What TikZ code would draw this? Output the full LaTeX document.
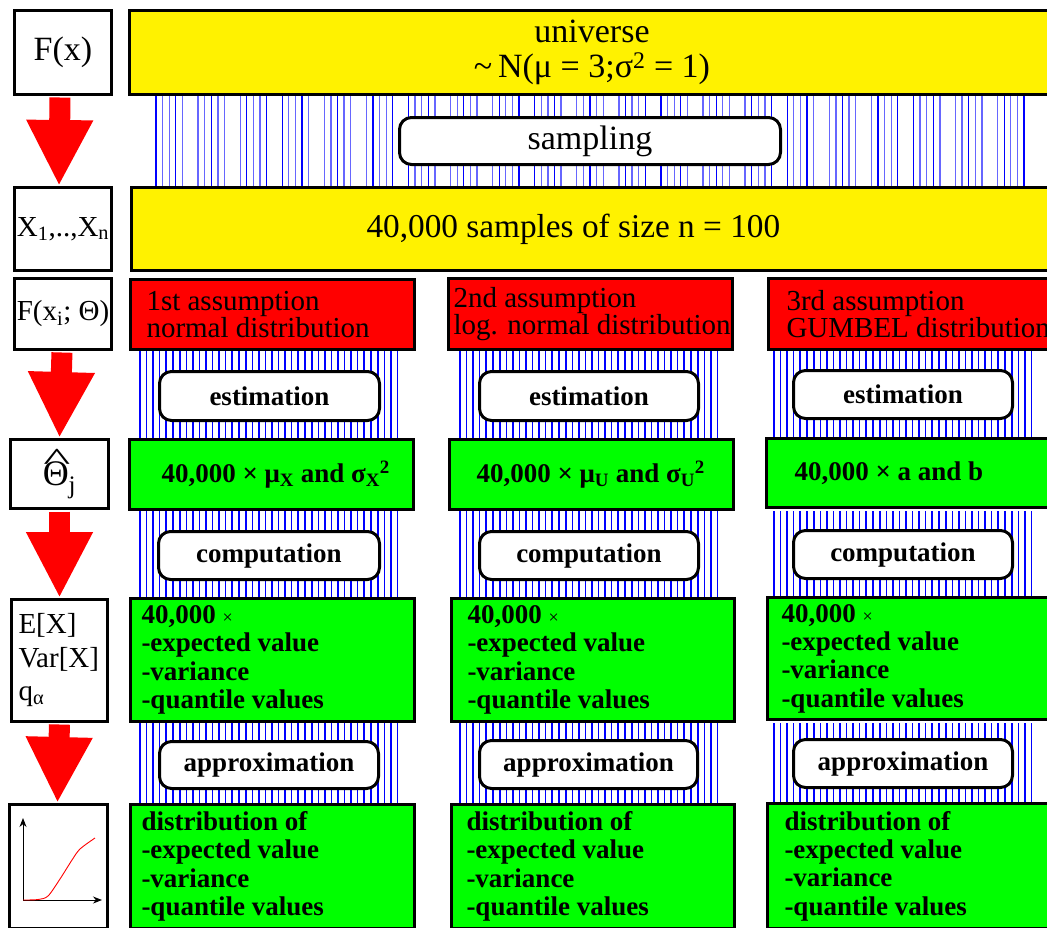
\documentclass[tikz,border=0pt]{standalone}
\usepackage{fontspec}
\setmainfont{Liberation Serif}
\usetikzlibrary{arrows.meta}
\newcommand\cbox[7]{\node[#1, minimum width={#5-#3-3}, minimum height={#6-#4-3}, align=center] (#2) at ({(#3+#5)/2},{(#4+#6)/2}) {#7};}
\newcommand\lbox[8]{\node[#1, minimum width={#5-#3-3}, minimum height={#6-#4-3}] (#2) at ({(#3+#5)/2},{(#4+#6)/2}) {};
  \node[#1, draw=none, fill=none, anchor=west, align=left] (#2t) at ({#3+1.5+#7},{(#4+#6)/2}) {#8};}
\newcommand\hatchcol[3]{\foreach \i in {0,...,39}{\pgfmathsetmacro\lw{mod(\i,2)==0 ? 1.9 : 1.2}\draw[blue, line width=\lw pt] ({#1+\i*6.6},#2) -- ({#1+\i*6.6},#3);}}
\begin{document}
\begin{tikzpicture}[x=1pt,y=-1pt,
  wbox/.style={draw, line width=3pt, fill=white, inner sep=0pt},
  ybox/.style={draw, line width=3pt, fill=yellow, inner sep=0pt},
  rbox/.style={draw, line width=3pt, fill=red, inner sep=0pt},
  gbox/.style={draw, line width=3pt, fill=green, inner sep=0pt},
  obox/.style={draw, line width=3pt, fill=white, rounded corners=12pt, inner sep=0pt},
  bigf/.style={font=\fontsize{34}{35}\selectfont},
  samf/.style={font=\fontsize{33.3}{35}\selectfont},
  midf/.style={font=\fontsize{29}{26}\selectfont},
  lblf/.style={font=\fontsize{29}{33.5}\selectfont},
  boldf/.style={font=\fontsize{27}{28.3}\selectfont\bfseries},
  flow/.style={red, line width=21pt, shorten <=1.5pt, -{Triangle[width=62pt,length=66pt]}},
]
\useasboundingbox (0,0) rectangle (1047,927);
\clip (0,0) rectangle (1047,927);
\fill[white] (0,0) rectangle (1047,927);

% sampling lines
\foreach \g in {0,...,20}{\foreach \k in {0,...,4}{\pgfmathsetmacro\op{mod(\g+\k,3)==0 ? 1 : 0.6}\draw[blue, line width=1.3pt, opacity=\op] ({156+\g*42.08+\k*6.6},96) -- ++(0,90);}}

% hatching in the three columns
\hatchcol{140}{351}{438}\hatchcol{140}{511}{597}\hatchcol{140}{723}{803}
\hatchcol{460}{351}{438}\hatchcol{460}{511}{597}\hatchcol{460}{723}{803}
\hatchcol{774}{351}{438}\hatchcol{774}{511}{597}\hatchcol{774}{723}{803}

% left column
\cbox{wbox,bigf}{Fx}{13}{9}{113}{96}{F(x)}
\cbox{wbox,midf}{Xn}{13}{186}{113}{272}{X\textsubscript{1},..,X\textsubscript{n}}
\cbox{wbox,midf}{Fxi}{13}{277}{113}{351}{F(x\textsubscript{i}; Θ)}
\cbox{wbox,font=\fontsize{36}{36}\selectfont}{Th}{9}{438}{110}{510}{\rlap{\hspace{0.02em}\raisebox{0.40em}{\scalebox{1.6}[0.9]{\textasciicircum}}}Θ\textsubscript{j}}
\lbox{wbox,lblf}{EX}{10}{598}{109}{723}{5.5}{E[X]\\Var[X]\\q\textsubscript{α}}
\cbox{wbox}{Gr}{8}{803}{109}{930}{}

% graph icon
\draw[line width=1pt, -{Stealth[length=9pt,width=7pt]}] (23,900) -- (23,818);
\draw[line width=1pt, -{Stealth[length=9pt,width=7pt]}] (23,900) -- (102,900);
\draw[red, line width=0.9pt] plot[smooth] coordinates {(23,900) (38,899.5) (48,896) (60,879) (72,860) (80,849) (95,838)};

% universe and samples
\cbox{ybox,bigf}{univ}{128}{9}{1056}{96}{universe\\\textasciitilde\,N(μ = 3;σ\textsuperscript{2} = 1)}
\cbox{obox,bigf}{samp}{398}{116}{782}{166}{sampling}
\lbox{ybox,samf}{samples}{130}{186}{1100}{272}{233.5}{40,000 samples of size n = 100}

% assumptions
\lbox{rbox,midf}{as1}{129}{278}{416}{351}{14.5}{1st assumption\\normal distribution}
\lbox{rbox,midf}{as2}{447}{277}{734}{351}{3.5}{2nd assumption\\log. normal distribution}
\lbox{rbox,midf}{as3}{767}{277}{1100}{351}{16.5}{3rd assumption\\GUMBEL distribution}

% estimation
\cbox{obox,boldf}{est1}{158}{370}{381}{422}{estimation}
\cbox{obox,boldf}{est2}{478}{370}{700}{422}{estimation}
\cbox{obox,boldf}{est3}{792}{369}{1014}{420}{estimation}

% parameters
\lbox{gbox,boldf}{par1}{128}{438}{415}{511}{30.5}{40,000 × μ\textsubscript{X} and σ\textsubscript{X}\textsuperscript{2}}
\lbox{gbox,boldf}{par2}{448}{438}{735}{511}{25.5}{40,000 × μ\textsubscript{U} and σ\textsubscript{U}\textsuperscript{2}}
\lbox{gbox,boldf}{par3}{765}{437}{1100}{509}{26.5}{40,000 × a and b}

% computation
\cbox{obox,boldf}{com1}{157}{530}{381}{581}{computation}
\cbox{obox,boldf}{com2}{478}{530}{700}{581}{computation}
\cbox{obox,boldf}{com3}{792}{529}{1014}{580}{computation}

% values
\lbox{gbox,boldf}{val1}{129}{597}{416}{723}{9.5}{40,000 {\fontsize{18}{18}\selectfont\mdseries ×}\\-expected value\\-variance\\-quantile values}
\lbox{gbox,boldf}{val2}{450}{597}{736}{723}{14.5}{40,000 {\fontsize{18}{18}\selectfont\mdseries ×}\\-expected value\\-variance\\-quantile values}
\lbox{gbox,boldf}{val3}{766}{596}{1100}{721}{12.5}{40,000 {\fontsize{18}{18}\selectfont\mdseries ×}\\-expected value\\-variance\\-quantile values}

% approximation
\cbox{obox,boldf}{app1}{158}{740}{380}{790}{approximation}
\cbox{obox,boldf}{app2}{478}{739}{699}{790}{approximation}
\cbox{obox,boldf}{app3}{792}{738}{1014}{789}{approximation}

% distributions
\lbox{gbox,boldf}{dis1}{129}{803}{416}{930}{9.5}{distribution of\\-expected value\\-variance\\-quantile values}
\lbox{gbox,boldf}{dis2}{450}{803}{736}{930}{13.5}{distribution of\\-expected value\\-variance\\-quantile values}
\lbox{gbox,boldf}{dis3}{766}{802}{1100}{930}{15.5}{distribution of\\-expected value\\-variance\\-quantile values}

% red flow arrows
\draw[flow] ([xshift=-3pt]Fx.south) -- ([xshift=-4pt]Xn.north);
\draw[flow] ([xshift=-1pt]Fxi.south) -- ([xshift=0pt]Th.north);
\draw[flow] ([xshift=0pt]Th.south) -- ([xshift=0pt]EX.north);
\draw[flow] ([xshift=0pt]EX.south) -- ([xshift=-1pt]Gr.north);
\end{tikzpicture}
\end{document}
